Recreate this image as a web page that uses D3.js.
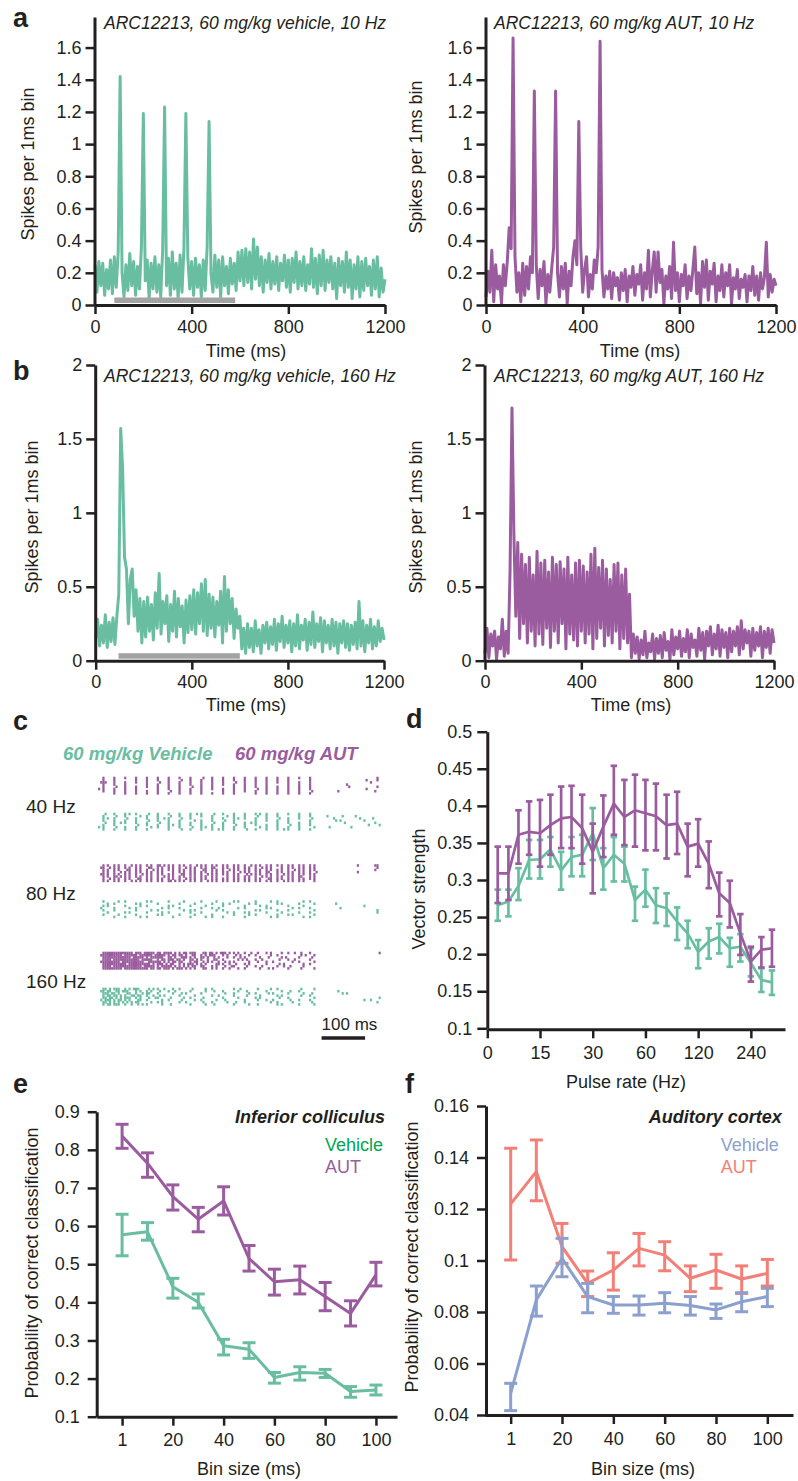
<!DOCTYPE html>
<meta charset="UTF-8">
<style>
body { margin: 0; background: #fff; }
text { font-family: 'Liberation Sans', Arial, Helvetica, sans-serif; fill: #231f20; }
</style>
<body>
<script src="https://cdnjs.cloudflare.com/ajax/libs/d3/7.8.5/d3.min.js"></script>
<script>
// ---------------- data ----------------
// PSTHs, one value every 8 ms from 0 to 1200 ms (spikes per 1 ms bin)
const psthStep = 8;
const psthVeh10 = [
  0.25,0.08,0.27,0.12,0.26,0.06,0.22,0.10,0.28,0.07,
  0.30,0.11,0.33,1.42,0.20,0.05,0.25,0.09,0.32,0.12,
  0.27,0.06,0.24,0.10,0.36,1.19,0.15,0.28,0.04,0.26,
  0.10,0.30,0.08,0.25,0.05,0.34,1.23,0.12,0.29,0.06,
  0.33,0.10,0.26,0.04,0.31,0.08,0.35,1.19,0.30,0.10,
  0.27,0.06,0.29,0.11,0.25,0.05,0.28,0.09,0.36,1.14,
  0.20,0.08,0.31,0.11,0.28,0.05,0.30,0.12,0.24,0.07,
  0.29,0.13,0.26,0.09,0.33,0.15,0.34,0.12,0.35,0.14,
  0.33,0.10,0.41,0.16,0.36,0.12,0.30,0.08,0.28,0.14,
  0.32,0.10,0.27,0.13,0.30,0.09,0.26,0.15,0.31,0.11,
  0.28,0.08,0.29,0.14,0.33,0.10,0.27,0.12,0.30,0.09,
  0.25,0.13,0.35,0.11,0.29,0.07,0.31,0.12,0.34,0.09,
  0.28,0.14,0.30,0.10,0.26,0.04,0.29,0.12,0.27,0.08,
  0.33,0.11,0.28,0.04,0.25,0.10,0.30,0.05,0.27,0.09,
  0.29,0.12,0.24,0.06,0.28,0.10,0.30,0.05,0.23,0.08,
  0.16];
const psthAut10 = [
  0.05,0.21,0.08,0.34,0.02,0.25,0.10,0.18,0.01,0.25,
  0.12,0.27,0.48,0.35,1.66,0.30,0.08,0.20,0.02,0.26,
  0.06,0.24,0.10,0.30,0.20,1.33,0.25,0.04,0.22,0.12,
  0.27,0.01,0.19,0.08,0.23,0.36,1.33,0.20,0.05,0.24,
  0.10,0.26,0.01,0.21,0.12,0.30,0.40,0.25,1.14,0.36,
  0.08,0.22,0.30,0.05,0.19,0.10,0.28,0.20,0.36,1.64,
  0.22,0.05,0.18,0.10,0.21,0.04,0.20,0.12,0.17,0.03,
  0.20,0.09,0.22,0.02,0.18,0.11,0.24,0.06,0.19,0.13,
  0.25,0.03,0.20,0.10,0.34,0.05,0.21,0.33,0.08,0.33,
  0.14,0.22,0.01,0.18,0.10,0.24,0.04,0.39,0.09,0.20,
  0.02,0.19,0.12,0.25,0.04,0.18,0.09,0.22,0.36,0.07,
  0.20,0.01,0.27,0.11,0.28,0.03,0.21,0.13,0.26,0.02,
  0.18,0.09,0.25,0.05,0.20,0.12,0.25,0.01,0.17,0.10,
  0.22,0.04,0.16,0.11,0.19,0.02,0.18,0.09,0.24,0.06,
  0.18,0.03,0.20,0.10,0.17,0.39,0.05,0.19,0.08,0.16,
  0.12];
const psthVeh160 = [
  0.15,0.28,0.10,0.24,0.12,0.31,0.09,0.26,0.13,0.29,
  0.11,0.30,0.45,1.57,1.30,0.70,0.62,0.25,0.55,0.62,
  0.30,0.48,0.20,0.42,0.12,0.40,0.16,0.43,0.20,0.38,
  0.14,0.46,0.22,0.59,0.18,0.40,0.25,0.44,0.13,0.38,
  0.20,0.47,0.16,0.42,0.23,0.37,0.12,0.41,0.19,0.44,
  0.21,0.48,0.18,0.46,0.25,0.52,0.20,0.55,0.17,0.45,
  0.22,0.43,0.16,0.40,0.24,0.47,0.12,0.57,0.20,0.48,
  0.25,0.42,0.15,0.35,0.22,0.30,0.08,0.22,0.05,0.25,
  0.09,0.22,0.06,0.27,0.10,0.21,0.05,0.24,0.12,0.26,
  0.08,0.23,0.11,0.28,0.07,0.25,0.13,0.30,0.09,0.24,
  0.12,0.27,0.06,0.25,0.10,0.31,0.08,0.24,0.14,0.28,
  0.07,0.26,0.11,0.33,0.09,0.25,0.13,0.29,0.06,0.27,
  0.12,0.24,0.08,0.28,0.10,0.26,0.05,0.25,0.12,0.27,
  0.09,0.25,0.07,0.24,0.11,0.26,0.08,0.40,0.10,0.27,
  0.06,0.24,0.12,0.28,0.08,0.23,0.10,0.27,0.13,0.22,
  0.14];
const psthAut160 = [
  0.05,0.22,0.02,0.18,0.10,0.20,0.01,0.16,0.08,0.28,
  0.03,0.20,0.05,0.60,1.71,0.85,0.30,0.80,0.15,0.72,
  0.25,0.65,0.12,0.70,0.20,0.58,0.10,0.74,0.18,0.66,
  0.11,0.68,0.22,0.60,0.09,0.70,0.20,0.65,0.12,0.67,
  0.25,0.62,0.08,0.70,0.18,0.58,0.14,0.66,0.10,0.68,
  0.20,0.64,0.12,0.60,0.18,0.72,0.08,0.76,0.15,0.63,
  0.22,0.68,0.10,0.62,0.17,0.55,0.12,0.65,0.20,0.66,
  0.08,0.58,0.15,0.62,0.12,0.45,0.02,0.18,0.05,0.16,
  0.01,0.14,0.04,0.20,0.02,0.12,0.06,0.18,0.01,0.15,
  0.05,0.17,0.02,0.19,0.07,0.13,0.01,0.21,0.04,0.16,
  0.08,0.20,0.03,0.15,0.06,0.21,0.02,0.18,0.09,0.14,
  0.03,0.22,0.07,0.19,0.01,0.20,0.10,0.23,0.04,0.18,
  0.08,0.24,0.03,0.21,0.09,0.19,0.02,0.22,0.06,0.20,
  0.10,0.23,0.04,0.27,0.08,0.21,0.12,0.20,0.03,0.22,
  0.07,0.19,0.10,0.23,0.02,0.20,0.09,0.22,0.05,0.21,
  0.12];
const stimBar10 = [80, 580];
const stimBar160 = [95, 600];
const timeTicks = [0, 400, 800, 1200];

// Rasters: one string per trial, 5 ms per character starting at -10 ms, "o" = spike (spaces ignored)
const rasterRates = ["40 Hz", "80 Hz", "160 Hz"];
const raster40Aut = [
  ".... o.... o.... o.... o.... o.... o.... o.... o.... o.... .o... o.... o.... o.... o.... o.... o.... o.... o.... o.... o.... .......... .......... ......o.",
  ".... o.... o.... ..... o.... o.... o.... o.... .o... o.... o.... o.... o.... o.... o.... o.... o.... o.... o.... ..... o.... .......... .......... .o....o.",
  "...o oo... o.... o.... o.... o.... .o... o.... o.... o.... o.... o.... o.... .o... o.... o.... o.... o.... o.... o.... o.... .......... .......... ...o....",
  ".... o.... o.... o.... ..... o.... o.... o.... o.... o.... o.... o.... o.... o.... o.... o.... o.... ..... o.... o.... o.... .......... ..o....... ........",
  ".... o.... .o... o.... o.... o.... o.... o.... o.... .o... o.... o.... ..... o.... o.... o.... o.... o.... o.... o.... o.... .......... ...o...... ......o.",
  "..o. o.... o.... o.... o.... ..... o.... o.... o.... o.... o.... o.... o.... o.... o.... .o... o.... o.... o.... o.... o.... .......... .......... .o......",
  ".... o.... o.... o.... o.... o.... o.... .o... o.... o.... o.... ..... o.... o.... o.... o.... o.... o.... o.... o.... .o... ........o. .......... .....o..",
  ".... ..... o.... o.... o.... o.... o.... o.... o.... o.... o.... o.... o.... o.... ..... o.... o.... o.... o.... o.... o.... .......... .......... ........"];
const raster40Veh = [
  ".... .o... o.... o.o.. o.... .o... o.... o.... o.... o..o. o.... .o... o.... o.... o.... o.o.. o.... o.... o.... o.... o.... .......... .......... ........",
  ".... o.... .o... o.... ..o.. o.... o.... .o... o.... o.... o.... o.... ..o.. o.... o.... .o... o.... o.... ..... o.... o.... ...o...... o.....o... ........",
  ".... o.o.. o.... .o... o.... o.... o..o. o.... .o... o.... ..... o.... o.... o.o.. o.... o.... o.... .o... o.... o.... .o... ......o... ........o. ....o...",
  ".... o.... o.... o.... o.... .o... o.... o.... o.... ..o.. o.... o.... .o... o.... ..... o.... o.... o.... o.... ..... o.... .......o.o .......... o.......",
  ".... .o... o..o. o.... o.... o.... .o... o.... o.... o.... o.... .o... o.... o.... o..o. o.... ..... o.... o.... o.... o.... .......... .o........ .....o..",
  ".... o.... o.... ..... .o... o.... o.... o.o.. o.... o.... o.... o.... o.... .o... o.... o.... o.... o.... .o... o.... o.... .......... .......... ..o....o",
  "..o. o.... .o... o.... o.... ..o.. o.... o.... o.... .o... o.o.. o.... o.... o.... o.... ..o.. o.... o.... o.... o.... ..o.. ....o..... ....o..... ........",
  ".... o.... o.... o.... o.... o.... ..... o.... .o... o.... o.... o..o. o.... o.... .o... o.... o.... o..o. o.... o.... o.... .......... .......... ........"];
const raster80Aut = [
  ".... o.o.. o.o.. o..o. o.o.. o.o.. oo.o. o.o.. o.o.. o..o. o.o.. o.o.. o.o.. o.o.. o..o. o.o.. o.o.. o.o.. o.o.. o.o.. o.o.. .......... .......o.. .....oo.",
  "...o o..o. o.o.. o.o.. o.o.. .oo.. o.o.. o.o.. o..o. o.o.. o.o.. oo... o.o.. o.o.. o.o.. o..o. o.o.. ..o.. o.o.. o.o.. o.o.. .......... .......... ......o.",
  ".... o.o.. o.o.. .oo.. o.o.. o..o. o.o.. o.o.. o.o.. o.o.. .oo.. o.o.. o..o. o.o.. o.o.. o.o.. o.o.. o.o.. o..o. o.o.. o.o.. .......... .......... .....o..",
  ".... o.o.. o..o. o.o.. o.o.. o.o.. o.o.. ..o.. o.o.. o.o.. o.o.. o.o.. o.o.. o..o. o.o.. o.o.. oo... o.o.. o.o.. o.o.. o..o. .......... .......o.. ........",
  "...o o.o.. o.o.. o.o.. o..o. o.o.. o.o.. o.o.. .oo.. o.o.. o..o. o.o.. o.o.. o.o.. .o.o. o.o.. o.o.. o..o. o.o.. o.o.. o.o.. .......... .......... ........",
  ".... o.o.. oo.o. o.o.. o.o.. o.o.. o..o. o.o.. o.o.. o.o.. o.o.. o.o.. ..o.. o.o.. o.o.. o..o. o.o.. o.o.. o.o.. oo... o.o.. .......... .......... ........",
  ".... o..o. o.o.. o.o.. .oo.. o.o.. o.o.. o.o.. o..o. o.o.. o.o.. o.o.. o.o.. o.o.. o.o.. o.o.. .oo.. o.o.. o.o.. o.o.. o.o.. .......... .......... ........",
  ".... o.o.. o.o.. o..o. o.o.. o.o.. o.o.. oo.o. o.o.. o.o.. o..o. o.o.. o.o.. o.o.. o.o.. o.o.. o.o.. o..o. o.o.. o.o.. ..o.. .......... .......... ........"];
const raster80Veh = [
  ".... o.... ..o.. o.... ..... o.o.. ..... o.... ..o.. ..... o.... ..o.. ..... o.o.. ..... o.... ..o.. o.... ..... ..o.. o.... .......... .......... ........",
  ".... ..o.. o.... ..... o.o.. ..... o.... ..... o.... ..o.. ..... o.... o..o. ..... ..o.. o.... ..... o.o.. ..... o.... ..o.. .......o.. .......... ........",
  ".... o.o.. ..... o.... ..o.. o.... ..... o.o.. ..... o.... ..o.. ..... o.... ..... o.... ..o.. o.... ..... o.... ..o.. ..... .......... .......... o.......",
  "...o ..... o.... ..o.. o.... ..... ..o.. o.... o.... ..... o.... o..o. ..... ..o.. o.... ..... o.o.. ..... ..o.. o.... o.... .........o .......... ........",
  ".... o.... o.... ..... o.... ..o.. o.... ..... ..o.. o.o.. ..... ..o.. o.... ..... ..... o.o.. ..... o.... o.... ..... ..o.. .......... .......... ......o.",
  ".... ..o.. ..... o.o.. ..... o.... ..o.. o.... ..... o.... o.... ..... ..o.. o.... o.o.. ..... o.... ..o.. ..... o.... o.... .......... .......... ......o.",
  ".... o.... ..o.. ..... o.... ..... o.o.. ..... o.... ..o.. ..... o.... ..... o.... ..o.. o.... ..... o.... o.o.. ..... ..o.. .......... .......... ........",
  ".... ..... o.... o.... ..o.. o.... ..... ..o.. ..... o.... ..o.. o.... o.... ..... o.... ..... ..o.. o.... ..... ..o.. o.... .......... .......... ........"];
const raster160Aut = [
  ".... ooooo ooooo oooo. ooo.o oooo. oo.oo oo.o. o.oo. ooo.. .oo.o o.o.o oo.o. o.o.. o..o. .o... o.o.. ..o.. o..o. .o... o.... .......... .......... .......o",
  "...o ooooo oooo. ooooo o.ooo ooo.o oooo. o.oo. oo.o. .oo.. o.o.o oo... o.o.. .o.o. ..o.. o.... ..o.. o.... ..... .o.o. ..o.. .......... .......... ........",
  ".... ooooo ooooo ooo.o oooo. o.ooo ooo.. oo.o. .ooo. o.o.. oo.o. .o.o. ..o.. o..o. o.... ..o.. .o... ..o.o ..... o.... .o... .......... .......... ........",
  ".... oooo. ooooo ooooo oo.oo ooo.. o.oo. ooo.o o.o.. oo.o. o..o. .oo.. o.... ..o.o .o... o..o. ..... .o... o..o. ..... o.... .......... .......... ........",
  "...o ooooo ooo.o ooooo oooo. .oooo oo.o. o.oo. oo... o.oo. .o.o. o..o. .o.o. o.... ..o.. .o... o..o. ..... ..o.. o.... ..o.. .......... .......... ........",
  ".... ooooo ooooo o.ooo ooooo oo.o. ooo.o .oo.. o.o.o oo.o. o.o.. ..oo. o..o. .o... o.o.. ..... o.... .o.o. ..... ..o.. o.... .......... .......... ........",
  ".... oooo. ooooo ooooo ooo.o oooo. o.ooo oo.o. o.o.o .oo.. oo... o.o.. .o..o o.... .o... o..o. ..... o..o. .o... ..o.. ..... .......... .......... ........",
  ".... ooooo oooo. ooooo ooooo o.oo. oo.oo o.o.o oo.o. o.o.. .oo.. o.o.. o..o. ..o.. o.... ..o.. .o.o. ..... o.... .o... ..o.. .......... .......... ........"];
const raster160Veh = [
  ".... oo.o. ooo.. o.o.o oo... .o.o. o..o. ..o.. o.... .o... ..o.. o.... ..... o..o. ..... .o... ..o.. o.... ..... .o... ..o.. .......... .......... ........",
  "...o o.oo. .oo.o oo... o.o.. o.o.. .o... o..o. ..... o.... ..o.. .o... o.... ..o.. .o... ..... o.... ..o.. .o... o.... ..... ........o. .......... ........",
  ".... ooo.o o.o.. .oo.. o..o. oo... o.... ..o.. .o.o. ..... o.... ..... .o... o.... ..o.. o.... .o.o. ..... o.... ..o.. .o... .......... o.o....... ........",
  ".... o.oo. oo.o. o..oo .oo.. o..o. .o.o. ..... o.... ..o.. ..... o..o. ..... o.... .o... ..o.. ..... o.o.. ..... .o... o.... .......... .......... ........",
  ".... oo.oo .o.o. ooo.. o.o.. .o..o o.... .o... ..o.. o.... .o... ..... o.... ..o.. ..... o.o.. ..... .o... o.... ..... ..o.. .......... .......... .......o",
  "...o .ooo. o.oo. o.o.. .oo.. o.... ..o.. o.... .o... ..o.. o.... ..o.. .o... ..... o.... .o... o..o. ..... .o... o.... o.... .......... .......... o..o....",
  ".... oo.o. o.o.o .o.o. oo... ..o.. o.o.. ..... o..o. ..... .o... o.... ..o.. .o... o.... ..... ..o.. o.... ..o.. ..... .o... .......... .......... ......o.",
  ".... o.oo. ooo.. o..o. .o.o. o.... ..o.. .o... ..... o.... ..o.. .o... ..... o.... ..o.. .o... ..... o.o.. ..... o.... ..o.. .......... .......... ........"];

// Vector strength vs pulse rate
const pulseRates = [8.6, 9.9, 11.3, 13, 15, 17.2, 19.8, 22.7, 26.1, 30, 34.5, 39.6, 45.5, 52.3, 60,
  68.9, 79.2, 91, 104.5, 120, 137.9, 158.4, 181.9, 209, 240, 275.7, 316.7];
const pulseTickValues = [7.5, 15, 30, 60, 120, 240];
const pulseTickLabels = ["0", "15", "30", "60", "120", "240"];
const vsAut   = [0.309,0.309,0.361,0.365,0.363,0.374,0.383,0.385,0.370,0.338,0.372,0.403,0.385,0.394,
  0.390,0.386,0.374,0.376,0.345,0.349,0.322,0.282,0.269,0.228,0.190,0.206,0.208];
const vsAutHi = [0.345,0.345,0.394,0.406,0.408,0.415,0.426,0.427,0.415,0.376,0.414,0.454,0.435,0.442,
  0.435,0.430,0.415,0.419,0.376,0.382,0.352,0.310,0.299,0.254,0.210,0.223,0.233];
const vsAutLo = [0.269,0.273,0.322,0.334,0.318,0.334,0.343,0.343,0.322,0.282,0.331,0.361,0.347,0.345,
  0.340,0.340,0.329,0.335,0.305,0.318,0.289,0.251,0.236,0.199,0.163,0.182,0.183];
const vsVeh   = [0.266,0.271,0.292,0.327,0.328,0.341,0.313,0.331,0.334,0.363,0.316,0.334,0.322,0.273,
  0.287,0.266,0.262,0.244,0.228,0.203,0.217,0.223,0.208,0.210,0.188,0.165,0.162];
const vsVehHi = [0.287,0.287,0.316,0.354,0.354,0.358,0.338,0.358,0.361,0.397,0.343,0.358,0.345,0.291,
  0.314,0.289,0.282,0.263,0.245,0.219,0.235,0.241,0.222,0.227,0.208,0.181,0.178];
const vsVehLo = [0.245,0.251,0.273,0.302,0.302,0.318,0.287,0.305,0.305,0.327,0.287,0.298,0.298,0.245,
  0.264,0.242,0.238,0.219,0.208,0.181,0.194,0.201,0.183,0.190,0.170,0.149,0.145];

// Classification vs bin size
const binSizes = [1, 10, 20, 30, 40, 50, 60, 70, 80, 90, 100];
const binTicks = [1, 20, 40, 60, 80, 100];
const icAut   = [0.836,0.765,0.677,0.618,0.666,0.515,0.454,0.459,0.415,0.371,0.472];
const icAutHi = [0.867,0.792,0.708,0.649,0.703,0.549,0.487,0.495,0.452,0.404,0.505];
const icAutLo = [0.804,0.728,0.642,0.585,0.629,0.482,0.419,0.422,0.378,0.338,0.443];
const icVeh   = [0.577,0.585,0.441,0.400,0.286,0.277,0.203,0.216,0.214,0.166,0.170];
const icVehHi = [0.631,0.609,0.463,0.422,0.303,0.294,0.216,0.231,0.224,0.179,0.183];
const icVehLo = [0.522,0.563,0.411,0.385,0.262,0.253,0.188,0.196,0.203,0.151,0.157];
const acAut   = [0.1220,0.1345,0.1054,0.0911,0.0963,0.1047,0.1021,0.0931,0.0963,0.0928,0.0950];
const acAutHi = [0.1436,0.1468,0.1144,0.0959,0.1030,0.1105,0.1073,0.0979,0.1024,0.0979,0.1004];
const acAutLo = [0.1002,0.1232,0.0989,0.0860,0.0885,0.0979,0.0960,0.0879,0.0892,0.0872,0.0901];
const acVeh   = [0.0484,0.0847,0.1008,0.0860,0.0827,0.0827,0.0834,0.0825,0.0808,0.0840,0.0860];
const acVehHi = [0.0523,0.0901,0.1086,0.0911,0.0860,0.0862,0.0875,0.0860,0.0831,0.0875,0.0892];
const acVehLo = [0.0417,0.0784,0.0937,0.0797,0.0795,0.0788,0.0797,0.0788,0.0775,0.0801,0.0821];

// ---------------- drawing ----------------
const FONT = "'Liberation Sans', Arial, Helvetica, sans-serif";
const INK = "#231f20";
const GREEN = "#69bea2", PURPLE = "#9a5c9f", GRAY = "#a3a3a3";
const VEH_GREEN = "#00a651", BLUE = "#8ba0cf", SALMON = "#f37f77";

const svg = d3.select("body").append("svg")
    .attr("width", 798)
    .attr("height", 1481);

function drawAxis(axisGen, tx, ty) {
  const g = svg.append("g")
      .attr("transform", `translate(${tx},${ty})`)
      .call(axisGen);
  g.select(".domain").attr("stroke", INK).attr("stroke-width", 3);
  g.selectAll(".tick line").attr("stroke", INK).attr("stroke-width", 2.5);
  g.selectAll(".tick text")
      .attr("font-size", 18).attr("font-family", FONT).attr("fill", INK);
  return g;
}

function label(x, y, txt, opt = {}) {
  const t = svg.append("text")
      .attr("x", x).attr("y", y)
      .attr("font-size", opt.size || 18)
      .attr("text-anchor", opt.anchor || "start")
      .text(txt);
  if (opt.color) t.style("fill", opt.color);
  if (opt.weight) t.attr("font-weight", opt.weight);
  if (opt.italic) t.attr("font-style", "italic");
  if (opt.rotate) t.attr("transform", `rotate(-90,${x},${y})`);
  return t;
}

// PSTH panels (a, b)
function psth(cfg) {
  const x = d3.scaleLinear().domain([0, 1200]).range([cfg.x0, cfg.x1]);
  const y = d3.scaleLinear().domain([0, cfg.yMax]).range([cfg.yBase, cfg.yTop]);
  const line = d3.line().x((d, i) => x(i * psthStep)).y(d => y(d));
  svg.append("path")
      .datum(cfg.data)
      .attr("d", line)
      .attr("fill", "none")
      .attr("stroke", cfg.color)
      .attr("stroke-width", 3)
      .attr("stroke-linejoin", "round");
  if (cfg.bar) {
    svg.append("rect")
        .attr("x", x(cfg.bar[0]))
        .attr("width", x(cfg.bar[1]) - x(cfg.bar[0]))
        .attr("y", cfg.yBase - 7.5)
        .attr("height", 5.5)
        .attr("fill", GRAY);
  }
  drawAxis(d3.axisLeft(y).tickValues(cfg.yTicks).tickFormat(d3.format("~g"))
      .tickSize(9).tickSizeOuter(0).tickPadding(4), x(0) - 0.5, 0);
  drawAxis(d3.axisBottom(x).tickValues(timeTicks).tickFormat(d3.format("d"))
      .tickSize(9).tickSizeOuter(0).tickPadding(6), 0, cfg.yBase);
  label(cfg.titleX, cfg.titleY, cfg.title, {italic: true, size: 17.5});
  label(cfg.ylabX, cfg.ylabY, "Spikes per 1ms bin", {anchor: "middle", rotate: true});
  label(cfg.xlabX, cfg.xlabY, "Time (ms)", {anchor: "middle"});
}

const ticksA = [0, 0.2, 0.4, 0.6, 0.8, 1, 1.2, 1.4, 1.6];
const ticksB = [0, 0.5, 1, 1.5, 2];

psth({x0: 95, x1: 385, yBase: 305, yTop: 17, yMax: 1.79, yTicks: ticksA, data: psthVeh10,
  color: GREEN, bar: stimBar10, title: "ARC12213, 60 mg/kg vehicle, 10 Hz", titleX: 104, titleY: 29,
  ylabX: 34, ylabY: 164, xlabX: 246, xlabY: 357});
psth({x0: 486, x1: 776, yBase: 305, yTop: 17, yMax: 1.79, yTicks: ticksA, data: psthAut10,
  color: PURPLE, bar: null, title: "ARC12213, 60 mg/kg AUT, 10 Hz", titleX: 494, titleY: 29,
  ylabX: 422, ylabY: 157, xlabX: 640, xlabY: 357});
psth({x0: 95.7, x1: 384, yBase: 660.7, yTop: 365, yMax: 2, yTicks: ticksB, data: psthVeh160,
  color: GREEN, bar: stimBar160, title: "ARC12213, 60 mg/kg vehicle, 160 Hz", titleX: 104, titleY: 382,
  ylabX: 38, ylabY: 517, xlabX: 246, xlabY: 711});
psth({x0: 485, x1: 774, yBase: 660.7, yTop: 365, yMax: 2, yTicks: ticksB, data: psthAut160,
  color: PURPLE, bar: null, title: "ARC12213, 60 mg/kg AUT, 160 Hz", titleX: 494, titleY: 382,
  ylabX: 422, ylabY: 517, xlabX: 631, xlabY: 711});

// Raster panel (c)
const xr = d3.scaleLinear().domain([-10, 650]).range([93.65, 380.75]);
const groupY = d3.scaleLinear().domain([0, 2]).range([776.7, 951.7]);
const rowPitch = 2.2, vehOffset = 36;

function drawRaster(rows, top, color) {
  const cells = [];
  rows.forEach((s, r) => {
    const str = s.replace(/ /g, "");
    for (let c = 0; c < str.length; c++) if (str[c] === "o") cells.push({c, r});
  });
  svg.append("g").attr("fill", color)
    .selectAll("rect").data(cells).join("rect")
      .attr("x", d => xr(-10 + 5 * d.c))
      .attr("y", d => top + d.r * rowPitch)
      .attr("width", 2.2)
      .attr("height", 2.6);
}

const rasterBlocks = [[raster40Aut, raster40Veh], [raster80Aut, raster80Veh], [raster160Aut, raster160Veh]];
rasterBlocks.forEach((pair, g) => {
  drawRaster(pair[0], groupY(g), PURPLE);
  drawRaster(pair[1], groupY(g) + vehOffset, GREEN);
  label(26, groupY(g) + 36, rasterRates[g], {size: 19});
});
label(63, 760, "60 mg/kg Vehicle", {weight: "bold", italic: true, color: GREEN, size: 18.5});
label(235, 760, "60 mg/kg AUT", {weight: "bold", italic: true, color: PURPLE, size: 18.5});
svg.append("line")
    .attr("x1", xr(514)).attr("x2", xr(614))
    .attr("y1", 1038).attr("y2", 1038)
    .attr("stroke", INK).attr("stroke-width", 3.5);
label(xr(514), 1030, "100 ms", {size: 17});

// Error-bar series helper
function errSeries(x, y, xs, mean, lo, hi, color, lw, capW) {
  const pts = mean.map((m, i) => ({x: xs[i], m, lo: lo[i], hi: hi[i]}));
  svg.append("path")
      .datum(pts)
      .attr("d", d3.line().x(d => x(d.x)).y(d => y(d.m)))
      .attr("fill", "none")
      .attr("stroke", color)
      .attr("stroke-width", lw)
      .attr("stroke-linejoin", "round");
  const g = svg.append("g").attr("stroke", color).attr("stroke-width", lw);
  g.selectAll(".v").data(pts).join("line")
      .attr("x1", d => x(d.x)).attr("x2", d => x(d.x))
      .attr("y1", d => y(d.lo)).attr("y2", d => y(d.hi));
  g.selectAll(".t").data(pts).join("line")
      .attr("x1", d => x(d.x) - capW / 2).attr("x2", d => x(d.x) + capW / 2)
      .attr("y1", d => y(d.hi)).attr("y2", d => y(d.hi));
  g.selectAll(".b").data(pts).join("line")
      .attr("x1", d => x(d.x) - capW / 2).attr("x2", d => x(d.x) + capW / 2)
      .attr("y1", d => y(d.lo)).attr("y2", d => y(d.lo));
}

// Panel d
{
  const x = d3.scaleLog().base(2).domain([7.5, 376]).range([487.3, 785]);
  const y = d3.scaleLinear().domain([0.1, 0.5]).range([1028.3, 731.7]);
  errSeries(x, y, pulseRates, vsVeh, vsVehLo, vsVehHi, GREEN, 2.7, 6.5);
  errSeries(x, y, pulseRates, vsAut, vsAutLo, vsAutHi, PURPLE, 2.7, 6.5);
  drawAxis(d3.axisLeft(y).tickValues([0.1,0.15,0.2,0.25,0.3,0.35,0.4,0.45,0.5])
      .tickFormat(d3.format(".2~f")).tickSize(10).tickSizeOuter(0).tickPadding(5), 487.3, 0);
  drawAxis(d3.axisBottom(x).tickValues(pulseTickValues)
      .tickFormat((d, i) => pulseTickLabels[i]).tickSize(9).tickSizeOuter(0).tickPadding(8), 0, 1029.3);
  label(424.5, 889, "Vector strength", {anchor: "middle", rotate: true});
  label(626, 1088, "Pulse rate (Hz)", {anchor: "middle"});
}

// Panel e
{
  const x = d3.scaleLinear().domain([-1, 10.83]).range([96.7, 397]);
  const y = d3.scaleLinear().domain([0.1, 0.9]).range([1416.7, 1111.7]);
  const idx = binSizes.map((d, i) => i);
  errSeries(x, y, idx, icVeh, icVehLo, icVehHi, GREEN, 3, 13);
  errSeries(x, y, idx, icAut, icAutLo, icAutHi, PURPLE, 3, 13);
  drawAxis(d3.axisLeft(y).tickValues([0.1,0.2,0.3,0.4,0.5,0.6,0.7,0.8,0.9])
      .tickFormat(d3.format(".1f")).tickSize(9).tickSizeOuter(0).tickPadding(8), 96.7, 0);
  drawAxis(d3.axisBottom(x).tickValues(binTicks.map(b => binSizes.indexOf(b)))
      .tickFormat(i => binSizes[i]).tickSize(9).tickSizeOuter(0).tickPadding(8), 0, 1416.7);
  label(38, 1263, "Probability of correct classification", {anchor: "middle", rotate: true});
  label(249, 1475, "Bin size (ms)", {anchor: "middle"});
  label(385, 1123, "Inferior colliculus", {anchor: "end", weight: "bold", italic: true});
  label(325, 1150.7, "Vehicle", {color: VEH_GREEN});
  label(325, 1173, "AUT", {color: PURPLE});
}

// Panel f
{
  const x = d3.scaleLinear().domain([-1, 11]).range([485, 793]);
  const y = d3.scaleLinear().domain([0.04, 0.16]).range([1415, 1106]);
  const idx = binSizes.map((d, i) => i);
  errSeries(x, y, idx, acAut, acAutLo, acAutHi, SALMON, 3, 13);
  errSeries(x, y, idx, acVeh, acVehLo, acVehHi, BLUE, 3, 13);
  drawAxis(d3.axisLeft(y).tickValues([0.04,0.06,0.08,0.1,0.12,0.14,0.16])
      .tickFormat(d3.format(".2~f")).tickSize(9).tickSizeOuter(0).tickPadding(8), 486, 0);
  drawAxis(d3.axisBottom(x).tickValues(binTicks.map(b => binSizes.indexOf(b)))
      .tickFormat(i => binSizes[i]).tickSize(9).tickSizeOuter(0).tickPadding(8), 0, 1415);
  label(418, 1257, "Probability of correct classification", {anchor: "middle", rotate: true});
  label(643, 1475, "Bin size (ms)", {anchor: "middle"});
  label(781.7, 1123, "Auditory cortex", {anchor: "end", weight: "bold", italic: true});
  label(720.7, 1150.7, "Vehicle", {color: BLUE});
  label(720.7, 1173, "AUT", {color: SALMON});
}

// Panel letters
[["a", 13, 27], ["b", 13, 380], ["c", 13, 730], ["d", 406, 728], ["e", 13, 1093], ["f", 405, 1093]]
  .forEach(([t, x, y]) => label(x, y, t, {weight: "bold", size: 27}));
</script>
</body>
